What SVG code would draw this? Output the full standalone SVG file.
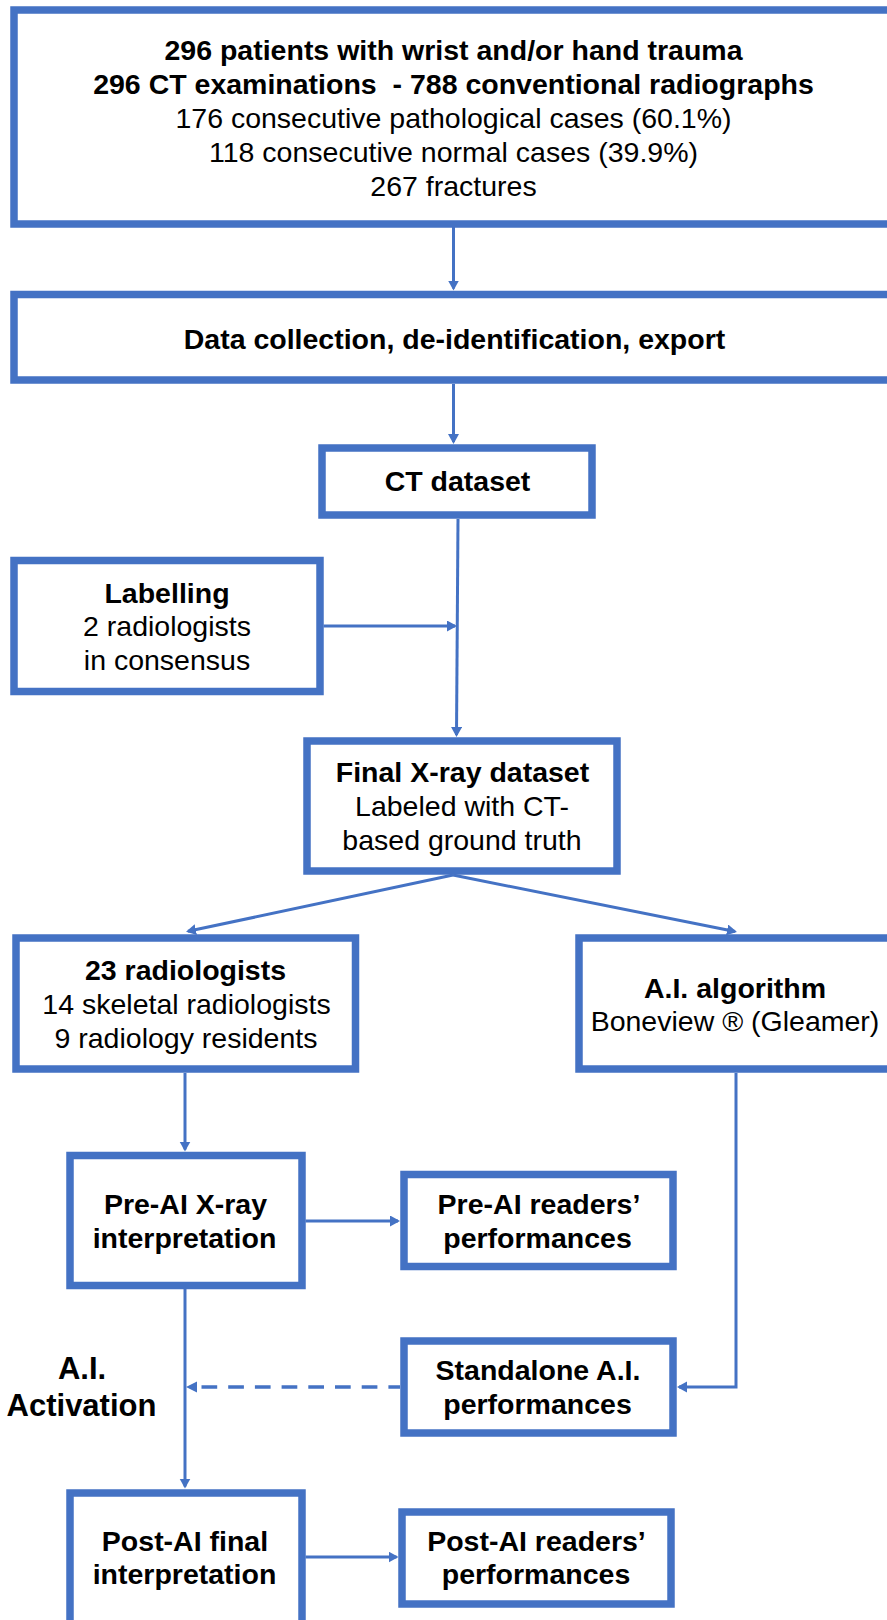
<svg xmlns="http://www.w3.org/2000/svg" width="887" height="1620" viewBox="0 0 887 1620">
<style>
.box{fill:#fff;stroke:#4472C4;stroke-width:7.5}
.c{fill:none;stroke:#4472C4;stroke-width:3}
.d{fill:none;stroke:#4472C4;stroke-width:3.5;stroke-dasharray:15.7 11}
text{font-family:"Liberation Sans",Arial,sans-serif;font-size:28.5px;fill:#000;text-anchor:middle}
.b{font-weight:bold}
.big{font-size:31px}
</style>
<defs>
<marker id="ah" markerUnits="userSpaceOnUse" markerWidth="12" markerHeight="12" refX="8" refY="5.5" orient="auto">
<path d="M0,0 L10,5.5 L0,11 z" fill="#4472C4"/>
</marker>
</defs>
<rect width="887" height="1620" fill="#fff"/>
<g id="connectors">
<line class="c" x1="453.5" y1="227" x2="453.5" y2="288.5" marker-end="url(#ah)"/>
<line class="c" x1="453.5" y1="384" x2="453.5" y2="442" marker-end="url(#ah)"/>
<line class="c" x1="458" y1="519" x2="456.5" y2="735" marker-end="url(#ah)"/>
<line class="c" x1="323.5" y1="626" x2="455" y2="626" marker-end="url(#ah)"/>
<line class="c" x1="453" y1="875" x2="188" y2="931.3" marker-end="url(#ah)"/>
<line class="c" x1="453" y1="875" x2="735" y2="931.5" marker-end="url(#ah)"/>
<line class="c" x1="185" y1="1073" x2="185" y2="1149.5" marker-end="url(#ah)"/>
<line class="c" x1="305.5" y1="1221" x2="398" y2="1221" marker-end="url(#ah)"/>
<polyline class="c" points="736,1073 736,1387 679,1387" marker-end="url(#ah)"/>
<line class="d" x1="201.5" y1="1387" x2="400" y2="1387"/>
<path d="M186,1387 L197,1381.5 L197,1392.5 z" fill="#4472C4"/>
<line class="c" x1="185" y1="1289" x2="185" y2="1486.5" marker-end="url(#ah)"/>
<line class="c" x1="305.5" y1="1557" x2="396.5" y2="1557" marker-end="url(#ah)"/>
</g>
<g id="n-top">
<rect class="box" x="14" y="10" width="880" height="214"/>
<text class="b" x="453.5" y="59.5">296 patients with wrist and/or hand trauma</text>
<text class="b" x="453.5" y="93.5" xml:space="preserve">296 CT examinations  - 788 conventional radiographs</text>
<text x="453.5" y="127.5">176 consecutive pathological cases (60.1%)</text>
<text x="453.5" y="161.5">118 consecutive normal cases (39.9%)</text>
<text x="453.5" y="195.5">267 fractures</text>
</g>
<g id="n-data">
<rect class="box" x="14" y="294.5" width="880" height="85.5"/>
<text class="b" x="454.5" y="348.5">Data collection, de-identification, export</text>
</g>
<g id="n-ct">
<rect class="box" x="322" y="448" width="270" height="67"/>
<text class="b" x="457.5" y="491">CT dataset</text>
</g>
<g id="n-labelling">
<rect class="box" x="14" y="560.5" width="306" height="131"/>
<text class="b" x="167" y="602.5">Labelling</text>
<text x="167" y="636">2 radiologists</text>
<text x="167" y="669.5">in consensus</text>
</g>
<g id="n-final">
<rect class="box" x="307" y="741" width="310" height="130"/>
<text class="b" x="462.5" y="782">Final X-ray dataset</text>
<text x="462" y="816">Labeled with CT-</text>
<text x="462" y="850">based ground truth</text>
</g>
<g id="n-rad">
<rect class="box" x="16" y="938" width="339.5" height="131"/>
<text class="b" x="185.5" y="980">23 radiologists</text>
<text x="186.5" y="1014">14 skeletal radiologists</text>
<text x="186" y="1048">9 radiology residents</text>
</g>
<g id="n-ai">
<rect class="box" x="579" y="938" width="320" height="131"/>
<text class="b" x="735" y="997.5">A.I. algorithm</text>
<text x="735" y="1031">Boneview ® (Gleamer)</text>
</g>
<g id="n-pre">
<rect class="box" x="70" y="1155.5" width="232" height="130"/>
<text class="b" x="185.5" y="1213.5">Pre-AI X-ray</text>
<text class="b" x="184.5" y="1247.5">interpretation</text>
</g>
<g id="n-prer">
<rect class="box" x="404" y="1174.5" width="269" height="92"/>
<text class="b" x="539" y="1213.5">Pre-AI readers’</text>
<text class="b" x="537.5" y="1247.5">performances</text>
</g>
<g id="n-stand">
<rect class="box" x="404" y="1341" width="269" height="92"/>
<text class="b" x="538" y="1380">Standalone A.I.</text>
<text class="b" x="537.5" y="1413.5">performances</text>
</g>
<g id="n-activation">
<text class="b big" x="82" y="1378.5">A.I.</text>
<text class="b big" x="81.5" y="1416">Activation</text>
</g>
<g id="n-post">
<rect class="box" x="70" y="1493" width="232" height="140"/>
<text class="b" x="185" y="1550.5">Post-AI final</text>
<text class="b" x="184.5" y="1584">interpretation</text>
</g>
<g id="n-postr">
<rect class="box" x="402" y="1512" width="269" height="92"/>
<text class="b" x="536.5" y="1550.5">Post-AI readers’</text>
<text class="b" x="536" y="1584">performances</text>
</g>
</svg>
